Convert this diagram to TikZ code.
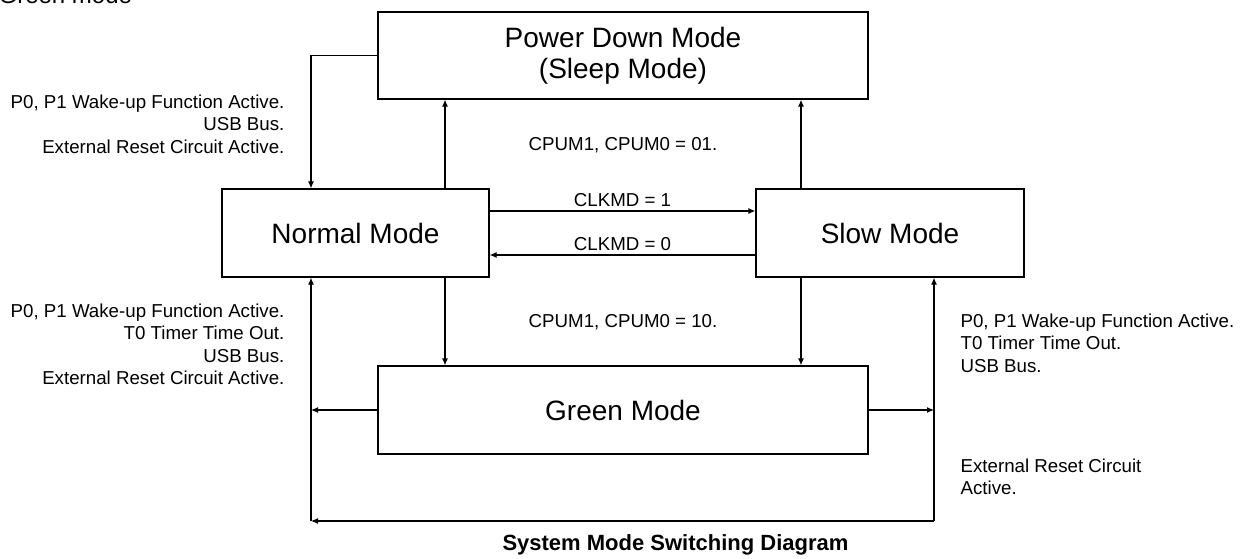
\documentclass[tikz,border=0pt]{standalone}
\usepackage{fontspec}
\setmainfont{Liberation Sans}
\usetikzlibrary{arrows.meta}
\tikzset{>={Latex[length=7pt,width=6pt]}}
\tikzset{
  modebox/.style={draw,minimum height=88,inner sep=0,align=center,font=\fontsize{28}{31}\selectfont},
  cond/.style={inner sep=0,font=\fontsize{18.7}{22.5}\selectfont},
}

\begin{document}
\begin{tikzpicture}[x=1pt,y=-1pt,line width=1.2]
  \useasboundingbox (0,0) rectangle (1245,559);
  % Cut off heading
  \node[anchor=base west,inner sep=0,font=\fontsize{24}{24}\selectfont] (head) at (-2,4) {Green mode};

  % Modes
  \node[modebox,minimum width=490,minimum height=87] (pd) at (623,55.5) {Power Down Mode\\(Sleep Mode)};
  \node[modebox,minimum width=267] (normal) at (355.5,233) {Normal Mode};
  \node[modebox,minimum width=268] (slow) at (890,233) {Slow Mode};
  \node[modebox,minimum width=490] (green) at (623,410) {Green Mode};

  % Wake-up lines
  \coordinate (lbus) at (311,0);
  \coordinate (rbus) at (934,0);
  \coordinate (lx) at (445,0);
  \coordinate (rx) at (801,0);
  \coordinate (lbot) at (311,521);
  \coordinate (rbot) at (934,521);

  % Power down <-> normal / slow
  \draw[->] (pd.west) -| (lbus |- normal.north);
  \draw[->] (lx |- normal.north) -- (lx |- pd.south);
  \draw[->] (rx |- slow.north) -- (rx |- pd.south);
  \node[cond,anchor=base] (cpum01) at (623,150) {CPUM1, CPUM0 = 01.};

  % Normal <-> slow
  \draw[->] ([yshift=22]normal.east) -- node[above,cond,inner sep=4] (clk1) {CLKMD = 1} ([yshift=22]slow.west);
  \draw[->] ([yshift=-22]slow.west) -- node[above,cond,inner sep=4] (clk0) {CLKMD = 0} ([yshift=-22]normal.east);

  % Normal / slow -> green
  \draw[->] (lx |- normal.south) -- (lx |- green.north);
  \draw[->] (rx |- slow.south) -- (rx |- green.north);
  \node[cond,anchor=base] (cpum10) at (623,327) {CPUM1, CPUM0 = 10.};

  % Green -> normal / slow
  \draw[->] (green.west) -- (lbus |- green.west);
  \draw[->] (green.east) -- (rbus |- green.east);
  \draw[->] (rbot) -- (lbot);
  \draw[->] (lbot) -- (lbus |- normal.south);
  \draw[->] (rbot) -- (rbus |- slow.south);

  % Conditions
  \node[cond,align=right,anchor=north east] (wakepd) at (285,94) {P0, P1 Wake-up Function Active.\\USB Bus.\\External Reset Circuit Active.};
  \node[cond,align=right,anchor=north east] (wakeln) at (285,303) {P0, P1 Wake-up Function Active.\\T0 Timer Time Out.\\USB Bus.\\External Reset Circuit Active.};
  \node[cond,align=left,anchor=north west] (wakers) at (960,313) {P0, P1 Wake-up Function Active.\\T0 Timer Time Out.\\USB Bus.};
  \node[cond,align=left,anchor=north west] (reset) at (960,458) {External Reset Circuit\\Active.};

  % Caption
  \node[anchor=base,inner sep=0,font=\bfseries\fontsize{22}{22}\selectfont] (caption) at (675.5,550) {System Mode Switching Diagram};
\end{tikzpicture}
\end{document}
